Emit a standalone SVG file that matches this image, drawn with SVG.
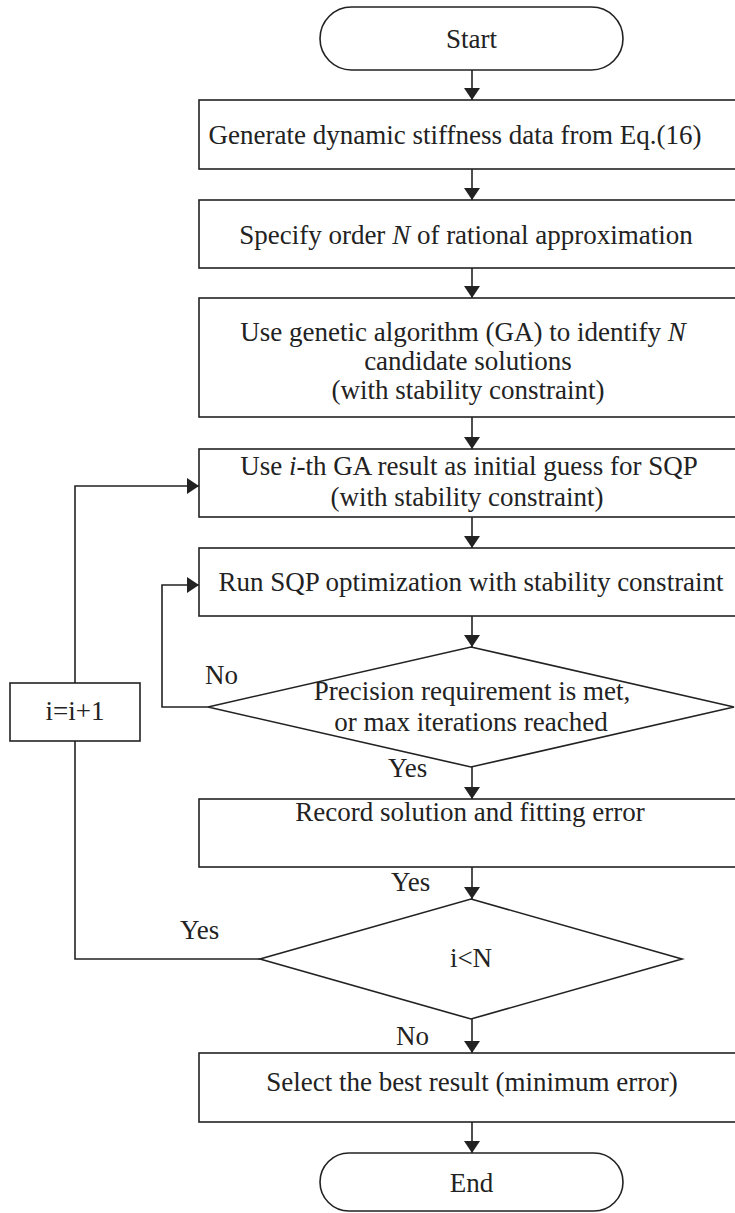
<svg xmlns="http://www.w3.org/2000/svg" width="735" height="1213" viewBox="0 0 735 1213">
<defs>
<style>
.s{fill:#fff;stroke:#222;stroke-width:1.6}
.c{fill:none;stroke:#222;stroke-width:1.6}
text{font-family:"Liberation Serif","Times New Roman",serif;font-size:27px;fill:#222}
.m{text-anchor:middle}
</style>
<marker id="ah" viewBox="0 0 12 16" refX="12" refY="8" markerWidth="12" markerHeight="16" markerUnits="userSpaceOnUse" orient="auto">
<path d="M0,0 L12,8 L0,16 z" fill="#222"/>
</marker>
</defs>
<g id="connectors">
<line class="c" x1="472" y1="70" x2="472" y2="100" marker-end="url(#ah)"/>
<line class="c" x1="472" y1="169" x2="472" y2="200" marker-end="url(#ah)"/>
<line class="c" x1="472" y1="268" x2="472" y2="298" marker-end="url(#ah)"/>
<line class="c" x1="472" y1="417" x2="472" y2="449" marker-end="url(#ah)"/>
<line class="c" x1="472" y1="517" x2="472" y2="548" marker-end="url(#ah)"/>
<line class="c" x1="472" y1="616" x2="472" y2="647" marker-end="url(#ah)"/>
<line class="c" x1="472" y1="767" x2="472" y2="799" marker-end="url(#ah)"/>
<line class="c" x1="472" y1="867" x2="472" y2="899" marker-end="url(#ah)"/>
<line class="c" x1="472" y1="1019" x2="472" y2="1053" marker-end="url(#ah)"/>
<line class="c" x1="472" y1="1122" x2="472" y2="1153" marker-end="url(#ah)"/>
<polyline class="c" points="208,707 162,707 162,585 199,585" marker-end="url(#ah)"/>
<polyline class="c" points="260,959 75,959 75,741"/>
<polyline class="c" points="75,683 75,486 199,486" marker-end="url(#ah)"/>
<text x="205" y="684">No</text>
<text x="388" y="777">Yes</text>
<text x="391" y="891">Yes</text>
<text x="180" y="939">Yes</text>
<text x="396" y="1045">No</text>
</g>
<g id="start">
<rect class="s" x="320" y="7" width="303" height="63" rx="31.5"/>
<text class="m" x="471.5" y="48">Start</text>
</g>
<g id="generate">
<rect class="s" x="199" y="100" width="546" height="69"/>
<text class="m" x="455" y="144">Generate dynamic stiffness data from Eq.(16)</text>
</g>
<g id="specify">
<rect class="s" x="199" y="200" width="546" height="68"/>
<text class="m" x="466" y="244">Specify order <tspan font-style="italic">N</tspan> of rational approximation</text>
</g>
<g id="ga">
<rect class="s" x="199" y="298" width="546" height="119"/>
<text class="m" x="463" y="341">Use genetic algorithm (GA) to identify <tspan font-style="italic">N</tspan></text>
<text class="m" x="468" y="370">candidate solutions</text>
<text class="m" x="468" y="399">(with stability constraint)</text>
</g>
<g id="guess">
<rect class="s" x="199" y="449" width="546" height="68"/>
<text class="m" x="469" y="475">Use <tspan font-style="italic">i</tspan>-th GA result as initial guess for SQP</text>
<text class="m" x="467" y="506">(with stability constraint)</text>
</g>
<g id="sqp">
<rect class="s" x="199" y="548" width="546" height="68"/>
<text class="m" x="471" y="591">Run SQP optimization with stability constraint</text>
</g>
<g id="precision">
<polygon class="s" points="471,647 734,707 471,767 208,707"/>
<text class="m" x="472" y="700">Precision requirement is met,</text>
<text class="m" x="471" y="731">or max iterations reached</text>
</g>
<g id="record">
<rect class="s" x="199" y="799" width="546" height="68"/>
<text class="m" x="470" y="821">Record solution and fitting error</text>
</g>
<g id="check">
<polygon class="s" points="471,899 682,959 471,1019 260,959"/>
<text class="m" x="471" y="967">i&lt;N</text>
</g>
<g id="select">
<rect class="s" x="199" y="1053" width="546" height="69"/>
<text class="m" x="472" y="1091">Select the best result (minimum error)</text>
</g>
<g id="end">
<rect class="s" x="320" y="1153" width="303" height="58" rx="29"/>
<text class="m" x="471.5" y="1192">End</text>
</g>
<g id="incr">
<rect class="s" x="10" y="683" width="130" height="58"/>
<text class="m" x="75" y="720">i=i+1</text>
</g>
</svg>
